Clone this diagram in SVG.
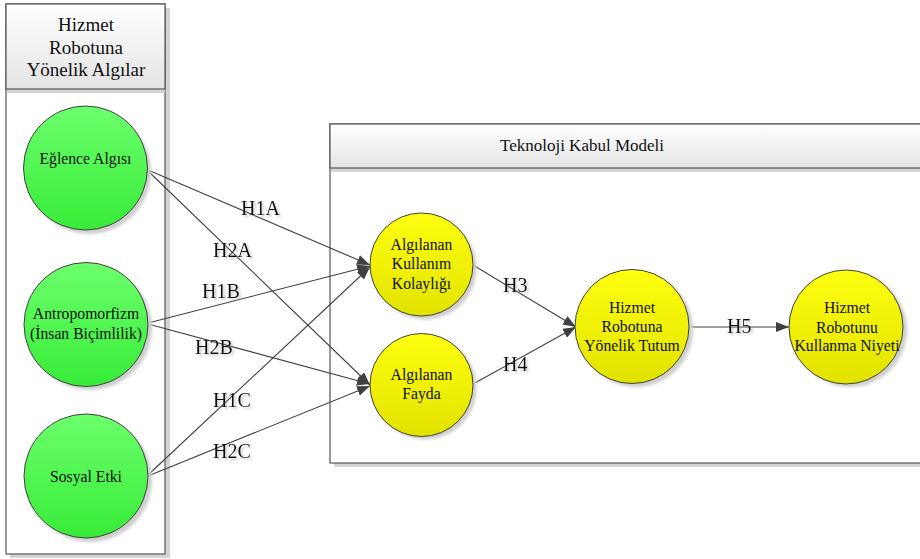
<svg xmlns="http://www.w3.org/2000/svg" width="920" height="559" viewBox="0 0 920 559">
<defs>
<linearGradient id="hdr" x1="0" y1="0" x2="0" y2="1"><stop offset="0" stop-color="#ffffff"/><stop offset="1" stop-color="#e4e4e4"/></linearGradient>
<linearGradient id="grn" x1="0" y1="0" x2="0" y2="1"><stop offset="0" stop-color="#6cff6c"/><stop offset="1" stop-color="#38ec38"/></linearGradient>
<linearGradient id="yel" x1="0" y1="0" x2="0" y2="1"><stop offset="0" stop-color="#ffff10"/><stop offset="1" stop-color="#e2e200"/></linearGradient>
<filter id="blur" x="-20%" y="-20%" width="140%" height="140%"><feGaussianBlur stdDeviation="1.5"/></filter>
<filter id="tsh" x="-20%" y="-20%" width="140%" height="140%"><feDropShadow dx="2" dy="2" stdDeviation="1" flood-color="#999" flood-opacity="0.5"/></filter>
<marker id="ah" markerUnits="userSpaceOnUse" markerWidth="14" markerHeight="10" refX="13" refY="5" orient="auto"><path d="M0,0 L13,5 L0,10 Z" fill="#404040"/></marker>
</defs>
<style>
.frame{fill:#fff;stroke:#555;stroke-width:1.2}
.head{fill:url(#hdr);stroke:#555;stroke-width:1.2}
.shadow{fill:#d4d4d4}
.cshadow{fill:#cfcfcf;filter:url(#blur)}
.green{fill:url(#grn);stroke:#404040;stroke-width:1}
.yellow{fill:url(#yel);stroke:#404040;stroke-width:1}
.t{font-family:"Liberation Serif","Times New Roman",serif;fill:#111;text-anchor:middle}
.nt{font-size:15.7px}
.lbl{font-family:"Liberation Serif","Times New Roman",serif;font-size:20px;fill:#111;filter:url(#tsh)}
.edge{stroke:#404040;stroke-width:1.1;fill:none;marker-end:url(#ah)}
</style>

<g id="container-left">
<rect class="shadow" x="10" y="8" width="160" height="550"/>
<rect class="frame" x="6" y="4" width="159" height="550"/>
<rect class="shadow" x="7" y="89" width="158" height="4"/>
<rect class="head" x="6" y="4" width="159" height="85"/>
<text class="t" style="font-size:19px" x="86" y="31">Hizmet</text>
<text class="t" style="font-size:19px" x="86" y="54">Robotuna</text>
<text class="t" style="font-size:19px" x="86" y="76">Yönelik Algılar</text>
</g>

<g id="container-tkm">
<rect class="shadow" x="334" y="128" width="590" height="339"/>
<rect class="frame" x="330" y="124" width="600" height="339"/>
<rect class="shadow" x="331" y="168" width="600" height="4"/>
<rect class="head" x="330" y="124" width="600" height="44"/>
<text class="t" style="font-size:17px" x="582" y="151">Teknoloji Kabul Modeli</text>
</g>

<g id="connectors">
<line class="edge" x1="148" y1="170" x2="370" y2="265"/>
<line class="edge" x1="148" y1="171" x2="370" y2="385"/>
<line class="edge" x1="148" y1="323" x2="370" y2="266"/>
<line class="edge" x1="148" y1="324" x2="370" y2="384"/>
<line class="edge" x1="148" y1="475" x2="370" y2="267"/>
<line class="edge" x1="148" y1="476" x2="370" y2="386"/>
<line class="edge" x1="473" y1="265" x2="576" y2="327"/>
<line class="edge" x1="473" y1="384" x2="576" y2="327"/>
<line class="edge" x1="688" y1="327" x2="789" y2="327"/>
<text class="lbl" x="241" y="215">H1A</text>
<text class="lbl" x="213" y="257">H2A</text>
<text class="lbl" x="202" y="298">H1B</text>
<text class="lbl" x="195" y="354">H2B</text>
<text class="lbl" x="213" y="407">H1C</text>
<text class="lbl" x="213" y="458">H2C</text>
<text class="lbl" x="503" y="292">H3</text>
<text class="lbl" x="503" y="371">H4</text>
<text class="lbl" x="727" y="333">H5</text>
</g>

<g id="node-eglence">
<circle class="cshadow" cx="89" cy="172" r="62"/>
<circle class="green" cx="85.5" cy="168" r="62"/>
<text class="t nt" x="85.5" y="164">Eğlence Algısı</text>
</g>
<g id="node-antropomorfizm">
<circle class="cshadow" cx="90" cy="328" r="62"/>
<circle class="green" cx="86" cy="324.5" r="62"/>
<text class="t nt" x="86" y="319">Antropomorfizm</text>
<text class="t nt" x="86" y="339">(İnsan Biçimlilik)</text>
</g>
<g id="node-sosyal">
<circle class="cshadow" cx="90" cy="480" r="62"/>
<circle class="green" cx="86" cy="476" r="62"/>
<text class="t nt" x="86" y="482">Sosyal Etki</text>
</g>
<g id="node-kullanim">
<circle class="cshadow" cx="425" cy="268" r="51.5"/>
<circle class="yellow" cx="421.5" cy="264.5" r="51.5"/>
<text class="t nt" x="421.5" y="250">Algılanan</text>
<text class="t nt" x="421.5" y="269">Kullanım</text>
<text class="t nt" x="421.5" y="289">Kolaylığı</text>
</g>
<g id="node-fayda">
<circle class="cshadow" cx="425" cy="388" r="51.5"/>
<circle class="yellow" cx="421.5" cy="385" r="51.5"/>
<text class="t nt" x="421.5" y="380">Algılanan</text>
<text class="t nt" x="421.5" y="399">Fayda</text>
</g>
<g id="node-tutum">
<circle class="cshadow" cx="636" cy="330" r="57"/>
<circle class="yellow" cx="632" cy="326.5" r="57"/>
<text class="t nt" x="632" y="313">Hizmet</text>
<text class="t nt" x="632" y="332">Robotuna</text>
<text class="t nt" x="632" y="351">Yönelik Tutum</text>
</g>
<g id="node-niyet">
<circle class="cshadow" cx="850" cy="330" r="57"/>
<circle class="yellow" cx="846" cy="327" r="57"/>
<text class="t nt" x="847" y="313">Hizmet</text>
<text class="t nt" x="847" y="333">Robotunu</text>
<text class="t nt" x="847" y="351">Kullanma Niyeti</text>
</g>
</svg>
